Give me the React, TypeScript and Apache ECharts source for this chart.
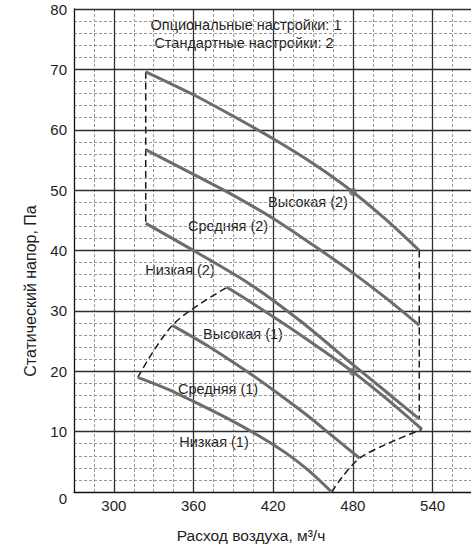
import React, { useEffect, useRef } from "react";
import * as echarts from "echarts";

// Axis ranges and tick labels
const xMin = 270;
const xMax = 570;
const yMin = 0;
const yMax = 80;
const xTickLabels = [300, 360, 420, 480, 540];
const yTickLabels = [0, 10, 20, 30, 40, 50, 60, 70, 80];
const majorX = [300, 360, 420, 480, 540];
const majorY = [10, 20, 30, 40, 50, 60, 70, 80];

// Curves: [airflow m3/h, static pressure Pa]
const high2 = [[324, 69.6], [360, 65.8], [387, 62.6], [420, 58.5], [450, 54.4], [480, 49.7], [505, 45.1], [530, 40.0]];
const mid2 = [[324, 56.7], [360, 52.6], [387, 49.5], [420, 45.3], [450, 40.9], [480, 36.3], [505, 32.1], [530, 27.6]];
const low2 = [[324, 44.5], [360, 40.0], [402, 34.5], [440, 28.4], [480, 21.1], [505, 16.6], [530, 12.1]];
const high1 = [[385, 33.9], [402, 31.6], [440, 26.1], [480, 19.9], [505, 15.5], [532, 10.4]];
const mid1 = [[344, 27.6], [370, 24.3], [402, 19.7], [420, 16.9], [445, 12.8], [465, 9.2], [485, 5.6]];
const low1 = [[318, 19.0], [340, 17.1], [360, 15.0], [388, 11.9], [410, 9.2], [430, 6.4], [447, 3.5], [464, 0]];

// Dashed boundaries
const leftBound = [[324, 69.6], [324, 44.5]];
const rightBound = [[530, 40.0], [530, 12.1]];
const upperLeftBound = [[318, 19.0], [330, 23.4], [344, 27.6], [359, 30.3], [385, 33.9]];
const lowerRightBound = [[464, 0], [472, 2.5], [485, 5.6], [505, 7.9], [532, 10.4]];

// Operating points
const markerPts = [[480, 49.7], [480, 19.9]];

const FONT = '"Liberation Sans", Arial, Helvetica, sans-serif';
const TEXT = "#1e1e1e";
const CURVE = "#6c6c6c";

function textEl(text: string, x: number, y: number, size: number, extra: any = {}) {
  return {
    type: "text",
    x,
    y,
    silent: true,
    ...extra,
    style: {
      text,
      x: 0,
      y: 0,
      fill: TEXT,
      fontSize: size,
      fontFamily: FONT,
      align: "center",
      verticalAlign: "middle",
      textAlign: "center",
      textVerticalAlign: "middle",
    },
  };
}

export default function App() {
  const ref = useRef<HTMLDivElement>(null);

  useEffect(() => {
    if (!ref.current) return;
    const chart = echarts.init(ref.current, null, { renderer: "svg" });

    const curve = (name: string, data: number[][]) => ({
      name,
      type: "line",
      data,
      smooth: 0.3,
      symbol: "none",
      lineStyle: { color: CURVE, width: 3 },
      z: 5,
    });
    const dashed = (name: string, data: number[][]) => ({
      name,
      type: "line",
      data,
      smooth: 0.3,
      symbol: "none",
      lineStyle: { color: "#1a1a1a", width: 1.5, type: [7, 4] },
      z: 4,
    });

    const option: any = {
      animation: false,
      backgroundColor: "#ffffff",
      grid: { left: 74, top: 9, width: 398.4, height: 483, containLabel: false },
      xAxis: {
        type: "value",
        min: xMin,
        max: xMax,
        interval: 15,
        axisLine: { show: true, onZero: false, lineStyle: { color: "#111", width: 1.3 } },
        axisTick: { show: false },
        axisLabel: {
          interval: 0,
          margin: 6,
          color: TEXT,
          fontSize: 15,
          fontFamily: FONT,
          formatter: (v: number) => (xTickLabels.includes(v) ? String(v) : ""),
        },
        splitLine: { show: true, lineStyle: { color: "#9a9a9a", width: 1, type: [3, 2] } },
      },
      yAxis: {
        type: "value",
        min: yMin,
        max: yMax,
        interval: 2,
        axisLine: { show: true, onZero: false, lineStyle: { color: "#111", width: 1.3 } },
        axisTick: { show: false },
        axisLabel: {
          margin: 7,
          color: TEXT,
          fontSize: 15,
          fontFamily: FONT,
          formatter: (v: number) =>
            yTickLabels.includes(v) ? (v === 0 ? "{z|0}" : String(v)) : "",
          rich: { z: { fontSize: 15, fontFamily: FONT, color: TEXT, padding: [12, 0, 0, 0] } },
        },
        splitLine: { show: true, lineStyle: { color: "#9a9a9a", width: 1, type: [3, 2] } },
      },
      series: [
        {
          name: "grid-major",
          type: "line",
          data: [],
          z: 2,
          markLine: {
            silent: true,
            symbol: "none",
            label: { show: false },
            lineStyle: { color: "#2e2e2e", width: 1.3, type: "solid" },
            data: [
              ...majorX.map((v) => ({ xAxis: v })),
              ...majorY.map((v) => ({ yAxis: v })),
            ],
          },
        },
        curve("Высокая (2)", high2),
        curve("Средняя (2)", mid2),
        curve("Низкая (2)", low2),
        curve("Высокая (1)", high1),
        curve("Средняя (1)", mid1),
        curve("Низкая (1)", low1),
        dashed("left", leftBound),
        dashed("right", rightBound),
        dashed("upperLeft", upperLeftBound),
        dashed("lowerRight", lowerRightBound),
        {
          name: "points",
          type: "scatter",
          data: markerPts,
          symbol: "circle",
          symbolSize: 8,
          itemStyle: { color: CURVE },
          z: 6,
        },
      ],
      graphic: [
        textEl("Опциональные настройки: 1", 246, 24.5, 14.5),
        textEl("Стандартные настройки: 2", 244, 42.5, 14.5),
        textEl("Высокая (2)", 308, 202, 14.5),
        textEl("Средняя (2)", 228, 226, 14.5),
        textEl("Низкая (2)", 180, 270, 14.5),
        textEl("Высокая (1)", 243, 334, 14.5),
        textEl("Средняя (1)", 218, 389, 14.5),
        textEl("Низкая (1)", 214, 442, 14.5),
        textEl("Расход воздуха, м³/ч", 251, 535, 15.5),
        textEl("Статический напор, Па", 30, 291, 16, { rotation: Math.PI / 2 }),
      ],
    };

    chart.setOption(option);
    return () => chart.dispose();
  }, []);

  return (
    <div
      style={{
        position: "fixed",
        left: 0,
        top: 0,
        width: 471,
        height: 548,
        overflow: "hidden",
        background: "#fff",
      }}
    >
      <div ref={ref} style={{ width: 480, height: 548 }} />
    </div>
  );
}
